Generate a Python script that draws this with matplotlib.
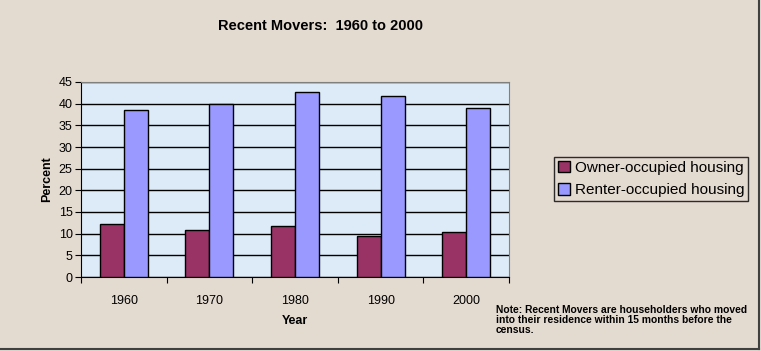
import numpy as np
import matplotlib.pyplot as plt

# data
anos = ["1960", "1970", "1980", "1990", "2000"]
proprietarios = [12.2, 10.8, 11.7, 9.5, 10.3]
inquilinos = [38.5, 39.9, 42.6, 41.7, 38.9]
y_ticks = [0, 5, 10, 15, 20, 25, 30, 35, 40, 45]

cor_fundo = "#E3DAD0"
cor_area = "#DCEBF7"
cor_prop = "#993366"
cor_inq = "#9999FF"

plt.rcParams["font.family"] = ["Liberation Sans", "DejaVu Sans"]

fig = plt.figure(figsize=(7.61, 3.51), dpi=100)
fig.patch.set_facecolor(cor_fundo)

ax = fig.add_axes([81 / 761, 1 - 277 / 351, 428 / 761, 195 / 351])
ax.set_facecolor(cor_area)

x = np.arange(len(anos))
w = 0.28
ax.bar(x - w / 2, proprietarios, w, color=cor_prop, edgecolor="black",
       linewidth=1, label="Owner-occupied housing", zorder=3)
ax.bar(x + w / 2, inquilinos, w, color=cor_inq, edgecolor="black",
       linewidth=1, label="Renter-occupied housing", zorder=3)

ax.set_xlim(-0.5, len(anos) - 0.5)
ax.set_ylim(0, 45)
ax.set_yticks(y_ticks)
ax.yaxis.grid(True, color="black", linewidth=1, zorder=1)
ax.set_axisbelow(True)

# ticks between categories, labels at centers
ax.set_xticks(np.arange(-0.5, len(anos)), minor=False)
ax.set_xticklabels([""] * (len(anos) + 1))
ax.set_xticks(x, minor=True)
ax.set_xticklabels(anos, minor=True, fontsize=9)
ax.tick_params(axis="x", which="minor", length=0, pad=13)
ax.tick_params(axis="x", which="major", length=4, direction="out")
ax.tick_params(axis="y", length=4, direction="out", labelsize=9, pad=2)

for lado in ["top", "right"]:
    ax.spines[lado].set_color("#808080")
for lado in ["left", "bottom"]:
    ax.spines[lado].set_color("black")

ax.set_xlabel("Year", fontsize=9, fontweight="bold", labelpad=6)
ax.set_ylabel("Percent", fontsize=9, fontweight="bold", labelpad=4)

fig.text(321 / 761, 1 - 26 / 351, "Recent Movers:  1960 to 2000",
         ha="center", va="center", fontsize=10.5, fontweight="bold")

leg = fig.legend(loc="center", bbox_to_anchor=(651 / 761, 1 - 179 / 351),
                 frameon=True, fancybox=False, fontsize=11,
                 handlelength=0.8, handleheight=0.8, handletextpad=0.3,
                 borderpad=0.25, labelspacing=0.55, borderaxespad=0)
leg.get_frame().set_edgecolor("black")
leg.get_frame().set_facecolor("none")
leg.get_frame().set_linewidth(1)

fig.text(496 / 761, 1 - 305 / 351,
         "Note: Recent Movers are householders who moved\n"
         "into their residence within 15 months before the\n"
         "census.",
         ha="left", va="top", fontsize=7.4, fontweight="bold", linespacing=1.0)

# border on right and bottom of the image
fig.add_artist(plt.Line2D([758.5 / 761, 758.5 / 761], [2.5 / 351, 1], color="#404040",
                          linewidth=1.5, transform=fig.transFigure))
fig.add_artist(plt.Line2D([0, 758.5 / 761], [2.5 / 351, 2.5 / 351], color="#404040",
                          linewidth=1.5, transform=fig.transFigure))

fig.savefig("out.png", dpi=100, facecolor=fig.get_facecolor())
